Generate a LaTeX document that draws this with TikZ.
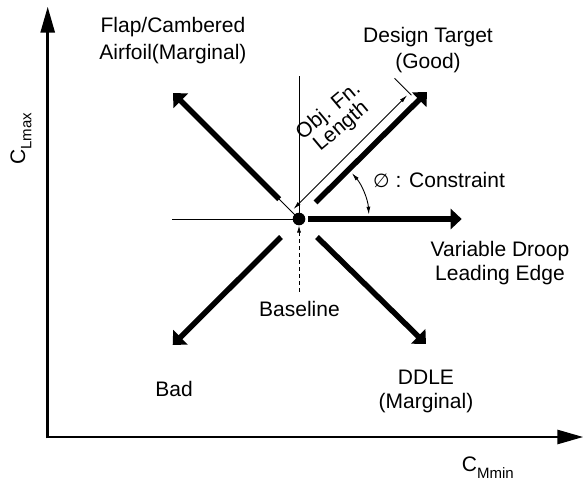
\documentclass[tikz,border=0pt]{standalone}
\usepackage{fontspec}
\setmainfont{Liberation Sans}
\newfontfamily\symfont{DejaVu Sans}
\usetikzlibrary{arrows.meta}
\newcommand{\subtxt}[1]{\raisebox{-0.3em}{\fontsize{15}{15}\selectfont #1}}
\begin{document}
\begin{tikzpicture}[x=1pt,y=-1pt,
  lbl/.style={inner sep=0pt, font=\fontsize{21}{25}\selectfont, align=center},
  axisarrow/.style={line width=2.8pt, -{Triangle[length=26pt,width=14pt]}},
  bigarrow/.style={line width=5.5pt, -{Triangle[length=11pt,width=20pt]}},
  thinline/.style={line width=0.9pt},
  dimarrow/.style={line width=0.9pt, {Latex[length=8pt,width=4pt]}-{Latex[length=8pt,width=4pt]}},
  basearrow/.style={line width=0.9pt, dash pattern=on 4pt off 3pt, -{Latex[length=7pt,width=4pt]}},
]
\useasboundingbox (0,0) rectangle (584,482);

% axes
\coordinate (O) at (47.7,437);
\coordinate (ytip) at (47.7,6.7);
\coordinate (xtip) at (583.3,437);
\coordinate (Ob) at (47.7,438.4);
\coordinate (Ol) at (46.3,437);
\draw[axisarrow] (Ob) -- (ytip);
\draw[axisarrow] (Ol) -- (xtip);

% centre
\coordinate (c) at (299,219);

% thin reference lines
\coordinate (hl) at (172,219);
\coordinate (vt) at (299,76);
\draw[thinline] (hl) -- (c);
\draw[thinline] (vt) -- (c);
\coordinate (ulx1) at (294.8,214.8);
\coordinate (ulx2) at (279.2,199.2);
\draw[thinline] (ulx1) -- (ulx2);

% thick arrows
\coordinate (rS) at (308,219);   \coordinate (rT) at (461.7,219);
\coordinate (urS) at (315.6,202.4); \coordinate (urT) at (427,92);
\coordinate (ulS) at (279.2,199.2); \coordinate (ulT) at (173,93);
\coordinate (dlS) at (281,237);  \coordinate (dlT) at (172.7,345);
\coordinate (drS) at (317,237);  \coordinate (drT) at (426,344);
\draw[bigarrow] (rS) -- (rT);
\draw[bigarrow] (urS) -- (urT);
\draw[bigarrow] (ulS) -- (ulT);
\draw[bigarrow] (dlS) -- (dlT);
\draw[bigarrow] (drS) -- (drT);

% dimension line (objective function length)
\coordinate (dA) at (293.4,209.1);
\coordinate (dB) at (407.2,95.2);
\draw[dimarrow] (dA) -- (dB);
\coordinate (tk1) at (411.4,95.2);
\coordinate (tk2) at (394.5,78.3);
\draw[thinline] (tk1) -- (tk2);

% constraint angle arc
\draw[dimarrow] (c) ++(-3.5:70) arc[start angle=-3.5, end angle=-41, radius=70];

% centre dot
\node[circle, fill=black, inner sep=0pt, minimum size=12.6pt] (dot) at (c) {};

% baseline dashed arrow
\node[lbl, anchor=base] (base) at (299.5,316.7) {Baseline};
\coordinate (bA) at (299,291.7);
\draw[basearrow] (bA) -- (dot.south);

% labels (base anchor = baseline of last line)
\node[lbl, anchor=base, font=\fontsize{21}{26.6}\selectfont] (flap) at (173,59.3) {Flap/Cambered\\Airfoil(Marginal)};
\node[lbl, anchor=base, font=\fontsize{21}{26}\selectfont] (design) at (428,68.3) {Design Target\\(Good)};
\node[lbl, anchor=base, rotate=40, font=\fontsize{21}{20}\selectfont] (obj) at (345,131) {Obj. Fn.\\Length};
\node[lbl, anchor=base west] (cons) at (373,187) {{\symfont\fontsize{19}{19}\selectfont ∅} : Constraint};
\node[lbl, anchor=base, font=\fontsize{21}{23.5}\selectfont] (vdle) at (500,280.2) {Variable Droop\\Leading Edge};
\node[lbl, anchor=base] (bad) at (174,396.7) {Bad};
\node[lbl, anchor=base, font=\fontsize{21}{24.5}\selectfont] (ddle) at (426,408.5) {DDLE\\(Marginal)};
\node[lbl, anchor=base west] (cm) at (461.7,471.7) {C\subtxt{Mmin}};
\node[lbl, anchor=base west, rotate=90] (cl) at (25,165) {C\subtxt{Lmax}};
\end{tikzpicture}
\end{document}
